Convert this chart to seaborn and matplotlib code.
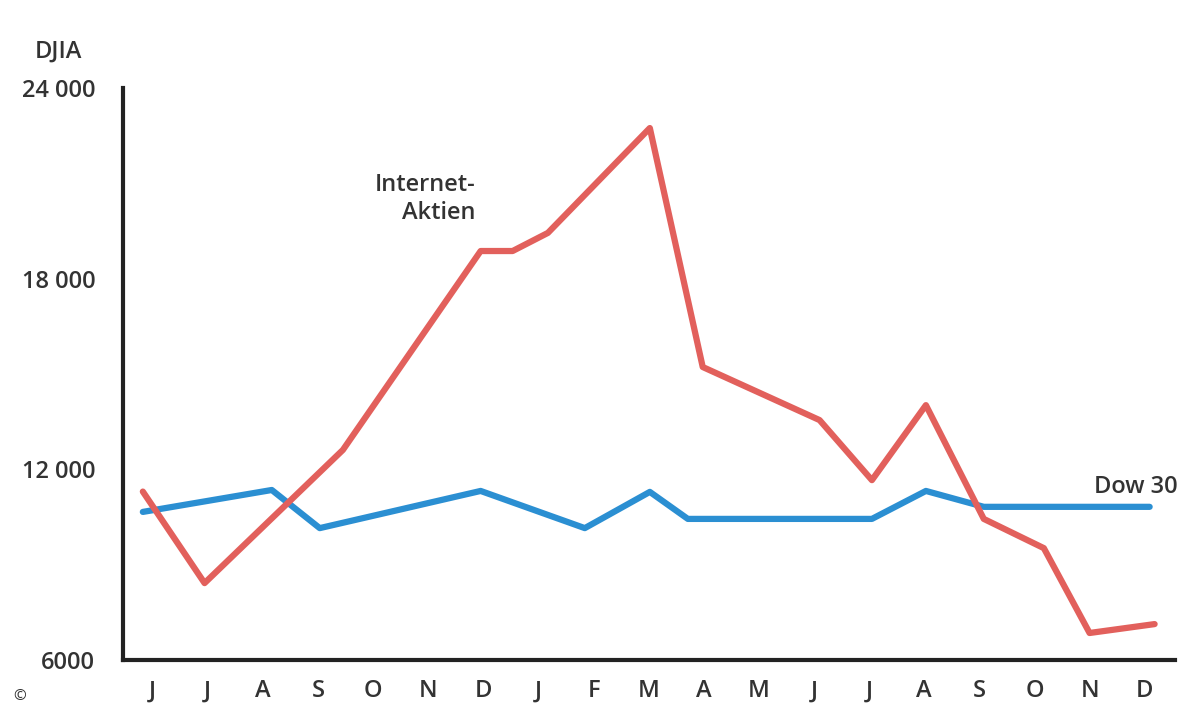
import matplotlib
matplotlib.use('Agg')
import matplotlib.pyplot as plt
import seaborn as sns
import pandas as pd

sns.set_style('white')
plt.rcParams['font.family'] = ['Open Sans', 'DejaVu Sans']

months = ['J', 'J', 'A', 'S', 'O', 'N', 'D', 'J', 'F', 'M',
          'A', 'M', 'J', 'J', 'A', 'S', 'O', 'N', 'D']

# Positionen in Monatseinheiten (0 = erster Juni)
internet_x = [-0.18, 0.94, 3.45, 5.95, 6.53, 7.17, 9.02, 9.98, 12.1,
              13.05, 14.03, 15.08, 16.17, 17.0, 18.18]
internet_y = [11300, 8420, 12610, 18870, 18870, 19440, 22740, 15220, 13550,
              11660, 14020, 10440, 9520, 6850, 7130]

dow_x = [-0.18, 2.16, 3.03, 5.95, 7.84, 9.02, 9.71, 13.05, 14.03, 15.08, 18.09]
dow_y = [10660, 11350, 10150, 11320, 10150, 11290, 10440, 10440, 11320, 10820, 10820]

df_i = pd.DataFrame({'x': internet_x, 'y': internet_y})
df_d = pd.DataFrame({'x': dow_x, 'y': dow_y})

fig = plt.figure(figsize=(12, 7.2), dpi=100)
ax = fig.add_axes([123 / 1200, 60 / 720, 1052 / 1200, 572 / 720])

sns.lineplot(data=df_d, x='x', y='y', ax=ax, color='#2b8fd2', linewidth=4.5,
             sort=False, estimator=None)
sns.lineplot(data=df_i, x='x', y='y', ax=ax, color='#e2605c', linewidth=4.5,
             sort=False, estimator=None)

ax.set_xlim(-0.54, 18.55)
ax.set_ylim(6000, 24000)
ax.set_xticks(range(len(months)))
ax.set_xticklabels(months)
ax.set_yticks([6000, 12000, 18000, 24000])
ax.set_yticklabels(['6000', '12 000', '18 000', '24 000'])
ax.tick_params(axis='both', length=0, labelsize=17, colors='#333333')
ax.tick_params(axis='x', pad=14)
ax.tick_params(axis='y', pad=20)
for lab in ax.get_xticklabels() + ax.get_yticklabels():
    lab.set_fontweight('semibold')
ax.set_xlabel('')
ax.set_ylabel('')
for s in ['top', 'right']:
    ax.spines[s].set_visible(False)
for s in ['left', 'bottom']:
    ax.spines[s].set_color('#222222')
    ax.spines[s].set_linewidth(3)

fig.text(58 / 1200, 1 - 52 / 720, 'DJIA', fontsize=17, fontweight='semibold',
         color='#333333', ha='center', va='center')
ax.text(5.85, 20500, 'Internet-\nAktien', fontsize=17, fontweight='semibold',
        color='#333333', ha='right', va='center', linespacing=1.2)
ax.text(18.6, 11450, 'Dow 30', fontsize=17, fontweight='semibold',
        color='#333333', ha='right', va='center')
fig.text(20 / 1200, 1 - 697 / 720, '©', fontsize=11, color='#333333',
         ha='center', va='center')

fig.savefig('out.png', dpi=100)
